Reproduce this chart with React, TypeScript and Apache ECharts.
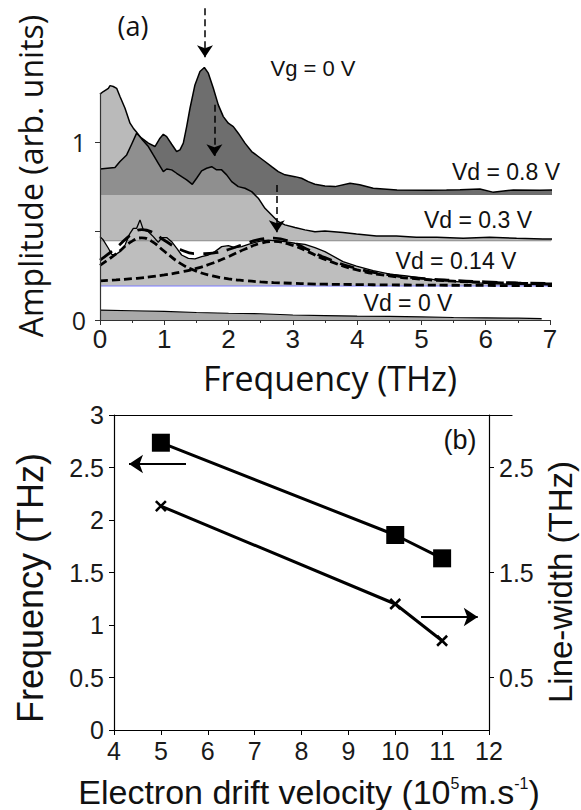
import React, { useEffect, useRef } from 'react';
import * as echarts from 'echarts';

// ---------- Panel (a): spectra (frequency THz, amplitude arb. units) ----------
const vd08X = [0, 0.233, 0.311, 0.415, 0.492, 0.57, 0.648, 0.752, 0.855, 0.933, 0.985, 1.037, 1.115, 1.192, 1.244, 1.296, 1.348, 1.4, 1.477, 1.555, 1.623, 1.685, 1.763, 1.84, 1.918, 1.996, 2.074, 2.151, 2.255, 2.359, 2.462, 2.566, 2.67, 2.773, 2.877, 3.033, 3.136, 3.24, 3.344, 3.499, 3.655, 3.89, 4.04, 4.25, 4.62, 5.13, 5.39, 5.6, 5.91, 6.11, 6.43, 6.84, 7.45];
const vd08Y = [0.848, 0.856, 0.89, 0.927, 0.987, 1.049, 1.021, 0.993, 0.974, 1.021, 1.043, 1.03, 0.987, 0.946, 0.955, 0.993, 1.086, 1.189, 1.32, 1.395, 1.418, 1.386, 1.301, 1.208, 1.142, 1.105, 1.086, 1.049, 0.993, 0.946, 0.918, 0.89, 0.861, 0.833, 0.815, 0.805, 0.796, 0.777, 0.762, 0.753, 0.749, 0.768, 0.76, 0.74, 0.73, 0.728, 0.73, 0.732, 0.736, 0.718, 0.73, 0.729, 0.73];

const vd03X = [0, 0.052, 0.13, 0.156, 0.207, 0.259, 0.311, 0.389, 0.467, 0.518, 0.57, 0.648, 0.752, 0.829, 0.907, 0.985, 1.037, 1.115, 1.192, 1.27, 1.348, 1.436, 1.503, 1.581, 1.659, 1.737, 1.814, 1.892, 1.97, 2.048, 2.151, 2.255, 2.359, 2.462, 2.566, 2.67, 2.773, 2.877, 3.033, 3.188, 3.344, 3.499, 3.78, 3.99, 4.3, 4.61, 4.92, 5.24, 5.65, 6.06, 6.48, 6.89, 7.27];
const vd03Y = [1.268, 1.283, 1.301, 1.316, 1.311, 1.301, 1.255, 1.189, 1.105, 1.077, 1.054, 1.017, 0.974, 0.927, 0.88, 0.833, 0.848, 0.843, 0.824, 0.805, 0.787, 0.762, 0.796, 0.837, 0.852, 0.861, 0.843, 0.843, 0.815, 0.777, 0.749, 0.74, 0.721, 0.684, 0.627, 0.59, 0.552, 0.534, 0.519, 0.506, 0.496, 0.5, 0.491, 0.483, 0.472, 0.472, 0.464, 0.464, 0.459, 0.464, 0.459, 0.455, 0.453];

const vd014X = [0, 0.052, 0.13, 0.181, 0.233, 0.311, 0.389, 0.467, 0.518, 0.57, 0.622, 0.674, 0.752, 0.829, 0.907, 0.959, 1.037, 1.115, 1.192, 1.27, 1.374, 1.477, 1.581, 1.685, 1.788, 1.892, 1.996, 2.1, 2.203, 2.307, 2.411, 2.514, 2.618, 2.748, 2.877, 3.033, 3.188, 3.344, 3.499, 3.78, 3.99, 4.25, 4.51, 4.77, 5.03, 5.34, 5.65, 6.01, 6.37, 6.68, 7.16];
const vd014Y = [0.468, 0.449, 0.403, 0.369, 0.365, 0.384, 0.421, 0.487, 0.515, 0.515, 0.562, 0.506, 0.496, 0.468, 0.436, 0.463, 0.463, 0.44, 0.403, 0.365, 0.346, 0.343, 0.356, 0.365, 0.384, 0.412, 0.418, 0.406, 0.412, 0.425, 0.436, 0.444, 0.449, 0.444, 0.44, 0.431, 0.425, 0.406, 0.384, 0.328, 0.303, 0.277, 0.258, 0.247, 0.234, 0.221, 0.213, 0.206, 0.202, 0.2, 0.195];

const vd0X = [0, 0.5, 1, 1.5, 2, 2.5, 3, 3.5, 4, 4.5, 5, 5.5, 6, 6.5, 6.87];
const vd0Y = [0.056, 0.052, 0.048, 0.042, 0.038, 0.035, 0.028, 0.025, 0.022, 0.02, 0.017, 0.014, 0.012, 0.01, 0.008];

// fitted peaks of the Vd = 0.14 V spectrum
const fitX = [0, 0.25, 0.5, 0.65, 0.8, 1.0, 1.25, 1.5, 1.75, 2.0, 2.25, 2.5, 2.7, 3.0, 3.25, 3.5, 4.0, 4.5, 5.0, 5.5, 6.0, 6.5, 7.2];
const fit1Y = [0.307, 0.371, 0.443, 0.461, 0.443, 0.386, 0.318, 0.274, 0.248, 0.231, 0.221, 0.214, 0.21, 0.206, 0.203, 0.201, 0.199, 0.197, 0.196, 0.195, 0.194, 0.193, 0.193];
const fit2Y = [0.22, 0.225, 0.232, 0.237, 0.243, 0.253, 0.269, 0.29, 0.319, 0.356, 0.397, 0.431, 0.441, 0.419, 0.381, 0.34, 0.281, 0.248, 0.229, 0.218, 0.211, 0.206, 0.202];
const fitSumY = [0.336, 0.405, 0.484, 0.507, 0.495, 0.448, 0.396, 0.373, 0.376, 0.396, 0.427, 0.454, 0.46, 0.434, 0.393, 0.35, 0.289, 0.254, 0.234, 0.222, 0.214, 0.208, 0.204];

// baselines (offsets) of the stacked spectra
const baseVd08 = 0.702;
const baseVd03 = 0.445;
const baseVd014 = 0.191;

// dashed arrows marking the peaks
const arrowX = [1.633, 1.78, 2.75];
const arrowFrom = [1.75, 1.208, 0.758];
const arrowTo = [1.475, 0.92, 0.493];

// ---------- Panel (b) ----------
const velocity = [5, 10, 11];
const peakFreq = [2.736, 1.857, 1.635];
const lineWidth = [2.133, 1.2, 0.85];
const bottomYTicks = [0.5, 1.5, 2.5];

const zip = (xs: number[], ys: number[]) => xs.map((x, i) => [x, ys[i]]);

const AX = '#333';
const SANS = '"Liberation Sans", Arial, sans-serif';
const MYR = '"Open Sans", sans-serif';

function buildOption(): any {
  const areaLine = (name: string, xs: number[], ys: number[], origin: number, color: string, opacity: number, width: number) => ({
    name,
    type: 'line',
    xAxisIndex: 0,
    yAxisIndex: 0,
    data: zip(xs, ys),
    showSymbol: false,
    clip: false,
    silent: true,
    lineStyle: { color: '#000', width },
    areaStyle: { color, opacity, origin },
  });
  const dashed = (name: string, ys: number[], type: any, width: number) => ({
    name,
    type: 'line',
    xAxisIndex: 0,
    yAxisIndex: 0,
    data: zip(fitX, ys),
    smooth: true,
    showSymbol: false,
    clip: false,
    silent: true,
    lineStyle: { color: '#000', width, type },
  });

  const s08: any = areaLine('Vd = 0.8 V', vd08X, vd08Y, baseVd08, '#6e6e6e', 1, 1.5);
  s08.markLine = {
    silent: true,
    symbol: ['none', 'arrow'],
    symbolSize: 12,
    label: { show: false },
    lineStyle: { color: '#000', width: 1.5, type: [7, 4] },
    data: arrowX.map((x, i) => [{ coord: [x, arrowFrom[i]] }, { coord: [x, arrowTo[i]] }]),
  };
  const s0: any = areaLine('Vd = 0 V', vd0X, vd0Y, 0, '#a9a9a9', 1, 1.2);
  s0.markLine = {
    silent: true,
    symbol: 'none',
    label: { show: false },
    lineStyle: { color: AX, width: 1.2, type: 'solid' },
    data: [[{ coord: [0, 0] }, { coord: [0, 1.275] }]],
  };

  const squares: any = {
    name: 'Frequency',
    type: 'line',
    xAxisIndex: 1,
    yAxisIndex: 1,
    data: zip(velocity, peakFreq),
    symbol: 'rect',
    symbolSize: 18,
    itemStyle: { color: '#000' },
    lineStyle: { color: '#000', width: 3 },
    silent: true,
    markLine: {
      silent: true,
      symbol: ['none', 'arrow'],
      symbolSize: 14,
      label: { show: false },
      lineStyle: { color: '#000', width: 2, type: 'solid' },
      data: [
        [{ coord: [5.536, 2.533] }, { coord: [4.32, 2.533] }],
        [{ coord: [10.55, 1.076] }, { coord: [11.76, 1.076] }],
      ],
    },
  };
  const crosses: any = {
    name: 'Line-width',
    type: 'line',
    xAxisIndex: 1,
    yAxisIndex: 2,
    data: zip(velocity, lineWidth),
    symbol: 'path://M0,0L10,10M10,0L0,10',
    symbolSize: 10,
    itemStyle: { color: 'transparent', borderColor: '#000', borderWidth: 2.5 },
    lineStyle: { color: '#000', width: 3 },
    silent: true,
  };

  const txt = (text: string, x: number, y: number, size: number, family: string, rotation = 0) => ({
    type: 'text',
    x,
    y,
    rotation,
    silent: true,
    style: { text, fill: '#111', fontSize: size, fontFamily: family, textAlign: 'center', textVerticalAlign: 'middle' },
  });

  return {
    animation: false,
    textStyle: { fontFamily: SANS },
    grid: [
      { left: 100, top: 3, width: 450, height: 317, outerBoundsMode: 'none' },
      { left: 114, top: 415, width: 375, height: 315, outerBoundsMode: 'none' },
      { left: 114, top: 415, width: 398, height: 315, outerBoundsMode: 'none' },
    ],
    xAxis: [
      {
        gridIndex: 0, type: 'value', min: 0, max: 7, interval: 1,
        axisLine: { show: true, onZero: false, lineStyle: { color: AX, width: 1.2 } },
        axisTick: { show: true, length: 5, lineStyle: { color: AX } },
        minorTick: { show: true, splitNumber: 2, length: 3, lineStyle: { color: AX } },
        axisLabel: { fontSize: 26, margin: 6, color: '#1a1a1a', fontFamily: SANS },
        splitLine: { show: false },
      },
      {
        gridIndex: 1, type: 'value', min: 4, max: 12, interval: 1,
        axisLine: { show: true, onZero: false, lineStyle: { color: '#000', width: 1.2 } },
        axisTick: { show: true, length: 5, lineStyle: { color: '#000' } },
        axisLabel: { fontSize: 25, margin: 8, color: '#1a1a1a', fontFamily: SANS },
        splitLine: { show: false },
      },
      {
        gridIndex: 2, type: 'value', min: 0, max: 1, position: 'top',
        axisLine: { show: true, onZero: false, lineStyle: { color: '#000', width: 1.2 } },
        axisTick: { show: false }, axisLabel: { show: false }, splitLine: { show: false },
      },
    ],
    yAxis: [
      {
        gridIndex: 0, type: 'value', min: 0, max: 1.78,
        axisLine: { show: false },
        axisTick: { show: true, length: 5, customValues: [0, 0.5, 1], lineStyle: { color: AX } },
        axisLabel: { customValues: [0, 1], fontSize: 25, margin: 14, color: '#1a1a1a', fontFamily: MYR },
        splitLine: { show: false },
      },
      {
        gridIndex: 1, type: 'value', min: 0, max: 3, interval: 0.5, position: 'left',
        axisLine: { show: true, onZero: false, lineStyle: { color: '#000', width: 1.2 } },
        axisTick: { show: true, length: 5, lineStyle: { color: '#000' } },
        axisLabel: { fontSize: 25, margin: 10, color: '#1a1a1a', fontFamily: SANS },
        splitLine: { show: false },
      },
      {
        gridIndex: 1, type: 'value', min: 0, max: 3, position: 'right',
        axisLine: { show: true, onZero: false, lineStyle: { color: '#000', width: 1.2 } },
        axisTick: { show: true, length: 5, customValues: bottomYTicks, lineStyle: { color: '#000' } },
        axisLabel: { customValues: bottomYTicks, fontSize: 25, margin: 10, color: '#1a1a1a', fontFamily: SANS },
        splitLine: { show: false },
      },
      { gridIndex: 2, type: 'value', min: 0, max: 1, show: false },
    ],
    series: [
      s08,
      areaLine('Vd = 0.3 V', vd03X, vd03Y, baseVd03, '#9c9c9c', 0.7, 1.5),
      {
        name: 'base 0.3', type: 'line', xAxisIndex: 0, yAxisIndex: 0, silent: true, clip: false,
        data: [[0, baseVd03], [vd03X[vd03X.length - 1], baseVd03]], showSymbol: false,
        lineStyle: { color: '#8a8a8a', width: 1 },
      },
      areaLine('Vd = 0.14 V', vd014X, vd014Y, baseVd014, '#bebebe', 1, 1.3),
      {
        name: 'base 0.14', type: 'line', xAxisIndex: 0, yAxisIndex: 0, silent: true, clip: false,
        data: [[0, baseVd014], [vd014X[vd014X.length - 1], baseVd014]], showSymbol: false,
        lineStyle: { color: '#7b7bff', width: 1.2 },
      },
      dashed('fit 1', fit1Y, [8, 4], 2.8),
      dashed('fit 2', fit2Y, [8, 4], 2.8),
      dashed('fit sum', fitSumY, [15, 9], 2.8),
      s0,
      squares,
      crosses,
    ],
    graphic: [
      txt('(a)', 133, 25, 27, MYR),
      txt('Amplitude (arb. units)', 30, 176, 32, MYR, Math.PI / 2),
      txt('Frequency (THz)', 330, 378, 34, MYR),
      txt('Vg = 0 V', 313, 68, 22, SANS),
      txt('Vd = 0.8 V', 506, 172, 23, SANS),
      txt('Vd = 0.3 V', 478, 220, 23, SANS),
      txt('Vd = 0.14 V', 456, 261, 23, SANS),
      txt('Vd = 0 V', 408, 303, 23, SANS),
      txt('(b)', 460, 440, 27, SANS),
      txt('Frequency (THz)', 30, 588, 36, SANS, Math.PI / 2),
      txt('Line-width (THz)', 560, 582, 33, SANS, Math.PI / 2),
      {
        type: 'text', x: 309, y: 792, silent: true,
        style: {
          text: 'Electron drift velocity (10{sup|5}m.s{sup|-1})',
          fill: '#111', fontSize: 34, fontFamily: SANS, textAlign: 'center', textVerticalAlign: 'middle',
          rich: { sup: { fontSize: 16, fontFamily: SANS, verticalAlign: 'top', fill: '#111' } },
        },
      },
    ],
  };
}

export default function App() {
  const ref = useRef<HTMLDivElement>(null);
  useEffect(() => {
    const chart = echarts.init(ref.current!, null, { renderer: 'svg' });
    chart.setOption(buildOption());
    return () => chart.dispose();
  }, []);
  return <div ref={ref} style={{ position: 'absolute', left: 0, top: 0, width: 581, height: 810 }} />;
}
